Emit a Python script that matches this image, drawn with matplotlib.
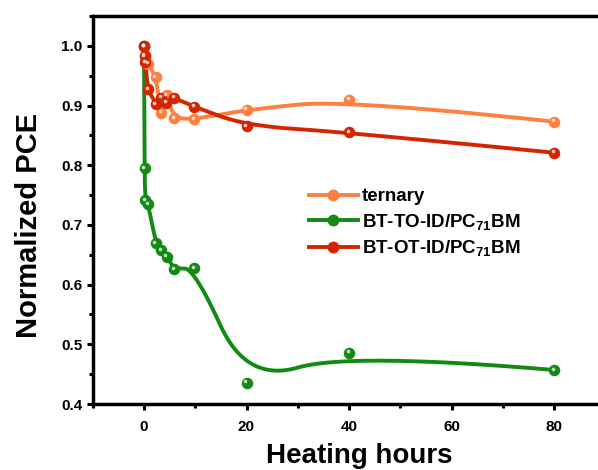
import numpy as np
import matplotlib
matplotlib.use("Agg")
import matplotlib.pyplot as plt
from matplotlib.ticker import MultipleLocator, FormatStrFormatter
from matplotlib.transforms import ScaledTranslation

plt.rcParams['font.family'] = ['Liberation Sans', 'DejaVu Sans']
plt.rcParams['font.weight'] = 'bold'
plt.rcParams['mathtext.default'] = 'regular'

# ---- data ----
ternary_x = [0, 0.1, 0.8, 2.3, 3.3, 4.4, 5.9, 9.8, 20, 40, 80]
ternary_y = [1.0, 0.985, 0.970, 0.948, 0.888, 0.917, 0.879, 0.877, 0.893, 0.910, 0.873]

to_x = [0, 0.1, 0.25, 0.8, 2.3, 3.3, 4.4, 5.9, 9.8, 20, 40, 80]
to_y = [1.0, 0.795, 0.742, 0.735, 0.670, 0.658, 0.647, 0.626, 0.628, 0.436, 0.486, 0.457]

ot_x = [0, 0.1, 0.25, 0.75, 2.3, 3.4, 4.3, 5.9, 9.8, 20, 40, 80]
ot_y = [1.0, 0.983, 0.973, 0.928, 0.902, 0.913, 0.905, 0.913, 0.898, 0.866, 0.855, 0.821]

labels = ['ternary', 'BT-TO-ID/PC$_{71}$BM', 'BT-OT-ID/PC$_{71}$BM']
colors = ['#FF7F40', '#138A13', '#D42400']
x_ticks = [0, 20, 40, 60, 80]
y_ticks = [0.4, 0.5, 0.6, 0.7, 0.8, 0.9, 1.0]


def bspline(xs, ys, n=800, k=2):
    """Clamped uniform B-spline using the data points as control points."""
    P = np.column_stack([xs, ys]).astype(float)
    m = len(P)
    knots = np.concatenate([np.zeros(k), np.linspace(0, 1, m - k + 1), np.ones(k)])
    t = np.linspace(0, 1, n)
    N = np.zeros((m + k, n))
    for i in range(m + k):
        N[i] = ((t >= knots[i]) & (t < knots[i + 1])).astype(float)
    last = np.max(np.where(knots[:-1] < knots[1:])[0])
    N[last, -1] = 1.0
    for d in range(1, k + 1):
        Nn = np.zeros((m + k - d, n))
        for i in range(m + k - d):
            a = knots[i + d] - knots[i]
            b = knots[i + d + 1] - knots[i + 1]
            term = np.zeros(n)
            if a > 0:
                term += (t - knots[i]) / a * N[i]
            if b > 0:
                term += (knots[i + d + 1] - t) / b * N[i + 1]
            Nn[i] = term
        N = Nn
    C = N[:m].T @ P
    return C[:, 0], C[:, 1]


fig = plt.figure(figsize=(5.98, 4.70), dpi=100)
ax = fig.add_axes([92.75 / 598, 66 / 470, 512.5 / 598, 388 / 470])

series = [(ternary_x, ternary_y), (to_x, to_y), (ot_x, ot_y)]
handles = []
hl_offset = ScaledTranslation(-1.3 / 100, 1.3 / 100, fig.dpi_scale_trans)
for (xs, ys), c, lab in zip(series, colors, labels):
    cx, cy = bspline(xs, ys)
    ax.plot(cx, cy, color=c, lw=2.8, solid_capstyle='round', zorder=2)
    ax.plot(xs, ys, ls='none', marker='o', ms=7.5, mfc=c, mec=c, mew=0.8, zorder=3)
    ax.plot(xs, ys, ls='none', marker='o', ms=2.6, mfc='#FFFFFF', mec='none', alpha=0.75,
            transform=ax.transData + hl_offset, zorder=4)
    hline, = ax.plot([], [], color=c, lw=2.8, marker='o', ms=7.5, mfc=c, mec=c)
    handles.append(hline)

ax.set_xlim(-10, 90)
ax.set_ylim(0.4, 1.05)
ax.set_xticks(x_ticks)
ax.set_yticks(y_ticks)
ax.xaxis.set_minor_locator(MultipleLocator(10))
ax.yaxis.set_minor_locator(MultipleLocator(0.05))
ax.yaxis.set_major_formatter(FormatStrFormatter('%.1f'))

for s in ['left', 'bottom', 'top']:
    ax.spines[s].set_linewidth(2.5)
ax.spines['right'].set_visible(False)
ax.tick_params(which='major', direction='out', length=4.3, width=2.2, labelsize=11, pad=7)
ax.tick_params(which='minor', direction='out', length=2.9, width=2.2)
ax.tick_params(axis='y', which='major', pad=3)
for lbl in ax.get_xticklabels() + ax.get_yticklabels():
    lbl.set_fontweight('bold')

ax.set_xlabel('Heating hours', fontsize=20, fontweight='bold')
ax.set_ylabel('Normalized PCE', fontsize=21, fontweight='bold')
ax.xaxis.set_label_coords(0.52, -0.101)
ax.yaxis.set_label_coords(-0.098, 0.46)

leg = ax.legend(handles, labels,
                loc='upper left', bbox_to_anchor=(309 / 598, 1 - 188 / 470),
                bbox_transform=fig.transFigure, frameon=False, borderpad=0,
                borderaxespad=0, handlelength=2.6, handletextpad=0.2,
                labelspacing=0.35, prop={'size': 13.5, 'weight': 'bold'})

fig.savefig('out.png', dpi=100)
